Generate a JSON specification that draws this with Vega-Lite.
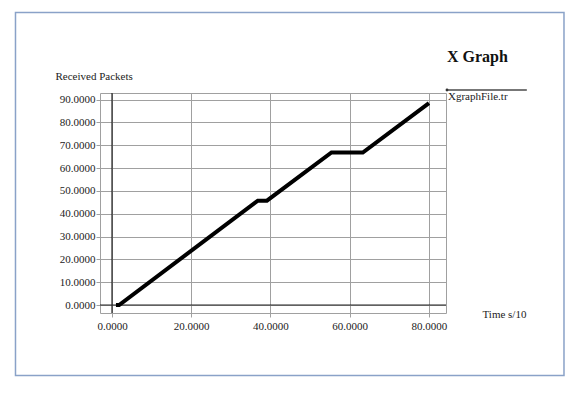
{
  "$schema": "https://vega.github.io/schema/vega-lite/v6.json",
  "autosize": "none",
  "width": 346,
  "height": 220,
  "padding": {"left": 100, "top": 93, "right": 134, "bottom": 80},
  "background": "white",
  "title": {"text": "X Graph", "anchor": "start", "frame": "group", "dx": 347, "dy": 72, "offset": 6, "fontSize": 16, "font": "Liberation Serif", "fontWeight": "bold", "color": "#111", "baseline": "alphabetic"},
  "config": {
    "view": {"stroke": "#a0a0a0", "strokeWidth": 1},
    "font": "Liberation Serif",
    "axis": {"labelFont": "Liberation Serif", "titleFont": "Liberation Serif", "labelFontSize": 11, "titleFontSize": 11, "titleFontWeight": "normal", "labelColor": "#222", "titleColor": "#222", "grid": true, "gridColor": "#a0a0a0", "gridOpacity": 1, "gridWidth": 1, "tickColor": "#a0a0a0", "tickSize": 4, "domain": false, "labelOverlap": false}
  },
  "datasets": {
    "xgraph": [
      {"time": 1.0, "packets": 0},
      {"time": 1.8, "packets": 0},
      {"time": 36.8, "packets": 45.7},
      {"time": 39.1, "packets": 45.7},
      {"time": 55.4, "packets": 66.8},
      {"time": 63.3, "packets": 66.8},
      {"time": 80.0, "packets": 88.4}
    ],
    "single": [{}]
  },
  "encoding": {
    "x": {"type": "quantitative", "scale": {"domain": [-3.03, 84.3], "nice": false, "zero": false},
          "axis": {"values": [0, 20, 40, 60, 80], "format": ".4f", "grid": true, "labelPadding": 3, "title": "Time s/10", "titleX": 382, "titleY": 1, "titleAlign": "left", "titleBaseline": "middle"}},
    "y": {"type": "quantitative", "scale": {"domain": [-3.5, 92.85], "nice": false, "zero": false},
          "axis": {"values": [0, 10, 20, 30, 40, 50, 60, 70, 80, 90], "format": ".4f", "grid": true, "labelPadding": 1, "title": "Received Packets", "titleAngle": 0, "titleX": -45, "titleY": -17, "titleAlign": "left", "titleBaseline": "middle"}}
  },
  "layer": [
    {
      "data": {"name": "single"},
      "mark": {"type": "rule", "color": "#222", "strokeWidth": 1.2},
      "encoding": {"x": {"datum": 0, "type": "quantitative"}}
    },
    {
      "data": {"name": "single"},
      "mark": {"type": "rule", "color": "#222", "strokeWidth": 1.2},
      "encoding": {"y": {"datum": 0, "type": "quantitative"}}
    },
    {
      "data": {"name": "xgraph"},
      "mark": {"type": "line", "color": "#000", "strokeWidth": 4, "strokeJoin": "miter", "strokeCap": "butt"},
      "encoding": {
        "x": {"field": "time", "type": "quantitative"},
        "y": {"field": "packets", "type": "quantitative"}
      }
    },
    {
      "data": {"name": "single"},
      "mark": {"type": "rule", "color": "#777", "strokeWidth": 2},
      "encoding": {"x": {"datum": 84.55, "type": "quantitative"}, "x2": {"datum": 104.7}, "y": {"datum": 94.16, "type": "quantitative"}}
    },
    {
      "data": {"name": "single"},
      "mark": {"type": "point", "filled": true, "color": "#333", "size": 8, "opacity": 1},
      "encoding": {"x": {"datum": 84.55, "type": "quantitative"}, "y": {"datum": 94.16, "type": "quantitative"}}
    },
    {
      "data": {"name": "single"},
      "mark": {"type": "text", "text": "XgraphFile.tr", "align": "left", "baseline": "middle", "font": "Liberation Serif", "fontSize": 11, "fontWeight": "normal", "color": "#222"},
      "encoding": {"x": {"datum": 84.8, "type": "quantitative"}, "y": {"datum": 90.9, "type": "quantitative"}}
    },
    {
      "data": {"name": "single"},
      "mark": {"type": "rect", "fill": null, "stroke": "#8aa2c8", "strokeWidth": 1.5},
      "encoding": {"x": {"datum": -24.36, "type": "quantitative"}, "x2": {"datum": 114.08}, "y": {"datum": 128.1, "type": "quantitative"}, "y2": {"datum": -30.87}}
    }
  ]
}
